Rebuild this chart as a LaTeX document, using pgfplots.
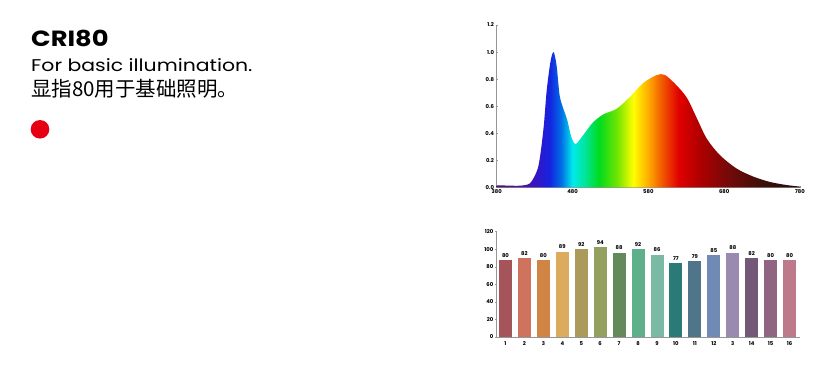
\documentclass[border=0pt]{standalone}
\usepackage{pgfplots}
\pgfplotsset{compat=1.18}
\usepackage{fontspec}
\setmainfont{Poppins}
\newfontfamily\cjk{Noto Sans CJK SC}
\definecolor{dotred}{RGB}{230,0,20}
\definecolor{axgray}{RGB}{150,150,150}
\definecolor{b1}{HTML}{A5555A}
\definecolor{b2}{HTML}{CF735E}
\definecolor{b3}{HTML}{D08545}
\definecolor{b4}{HTML}{DBAB5E}
\definecolor{b5}{HTML}{AC9A5A}
\definecolor{b6}{HTML}{93A060}
\definecolor{b7}{HTML}{648A5C}
\definecolor{b8}{HTML}{5DB08A}
\definecolor{b9}{HTML}{7ABAA5}
\definecolor{b10}{HTML}{2A7A78}
\definecolor{b11}{HTML}{50758A}
\definecolor{b12}{HTML}{6E8AB5}
\definecolor{b13}{HTML}{9A8AAF}
\definecolor{b14}{HTML}{745878}
\definecolor{b15}{HTML}{8F6582}
\definecolor{b16}{HTML}{BD7A8A}
% horizontal spectrum shading: 380nm -> 25bp, 780nm -> 75bp
\pgfdeclarehorizontalshading{spectrum}{100bp}{%
 rgb(0bp)=(0.31,0.08,0.43);
 rgb(25bp)=(0.31,0.08,0.43);
 rgb(28.75bp)=(0.33,0.08,0.57);
 rgb(31.25bp)=(0.22,0.08,0.75);
 rgb(33.75bp)=(0.08,0.14,0.88);
 rgb(35.625bp)=(0.0,0.43,0.90);
 rgb(37.5bp)=(0.0,0.92,0.92);
 rgb(39.375bp)=(0.0,0.90,0.63);
 rgb(41.875bp)=(0.0,0.86,0.12);
 rgb(45bp)=(0.47,0.90,0.0);
 rgb(47.5bp)=(1.0,1.0,0.0);
 rgb(50bp)=(1.0,0.67,0.0);
 rgb(52.5bp)=(0.94,0.31,0.0);
 rgb(55bp)=(0.88,0.0,0.0);
 rgb(58.75bp)=(0.67,0.0,0.0);
 rgb(63.75bp)=(0.43,0.04,0.04);
 rgb(68.75bp)=(0.24,0.06,0.04);
 rgb(75bp)=(0.12,0.06,0.04);
 rgb(100bp)=(0.12,0.06,0.04)}
\pgfplotsset{
 barstyle/.style={ybar, bar width=13pt, bar shift=0pt, draw=none, fill=#1,
   nodes near coords, point meta=explicit symbolic,
   every node near coord/.append style={font=\bfseries\fontsize{5.3}{5.3}\selectfont, text=black, inner sep=2.5pt}},
}
\begin{document}
\begin{tikzpicture}[x=1pt,y=1pt]
\path[use as bounding box] (0,0) rectangle (836,370);
\node[anchor=base west, inner sep=0pt, font=\bfseries\fontsize{22}{22}\selectfont] at (31,323.3) {\scalebox{1.17}[1]{CRI80}};
\node[anchor=base west, inner sep=0pt, font=\fontsize{17}{17}\selectfont] at (31,298.3) {\scalebox{1.2}[1]{For basic illumination.}};
\node[anchor=base west, inner sep=0pt, font=\cjk\fontsize{20.5}{20.5}\selectfont] at (31,273.5) {显指80用于基础照明。};
\fill[dotred] (40,240.7) circle (9.3);

\begin{axis}[
 at={(496.7pt,182.7pt)}, anchor=south west, scale only axis,
 width=303.3pt, height=162.3pt,
 xmin=380, xmax=780, ymin=0, ymax=1.2,
 axis x line=bottom, axis y line=left,
 axis line style={-, axgray, line width=0.6pt},
 xtick={380,480,580,680,780}, ytick={0,0.2,0.4,0.6,0.8,1.0,1.2},
 tick style={axgray, line width=0.5pt}, major tick length=2pt,
 tick label style={font=\bfseries\fontsize{5.3}{5.3}\selectfont, inner sep=1.5pt},
 /pgf/number format/assume math mode=true,
 yticklabel style={/pgf/number format/.cd, fixed, fixed zerofill, precision=1},
 xticklabel style={/pgf/number format/.cd, fixed, 1000 sep={}},
 clip=false,
]
\addplot[shading=spectrum, draw=none, smooth, tension=0.5] coordinates {
 (380,0.015) (400,0.012) (411,0.012) (424,0.03) (433,0.12) (437,0.22)
 (442,0.45) (446,0.72) (451,0.93) (455,1.00) (459,0.90) (463,0.68)
 (468,0.58) (473,0.50) (478,0.38) (484,0.32) (494,0.385) (507,0.48)
 (521,0.54) (538,0.58) (556,0.67) (573,0.77) (591,0.83) (602,0.83)
 (617,0.755) (631,0.66) (644,0.51) (657,0.36) (674,0.24) (696,0.14)
 (718,0.08) (740,0.04) (762,0.017) (780,0.005)
} \closedcycle;
\end{axis}

\begin{axis}[
 at={(496pt,33pt)}, anchor=south west, scale only axis,
 width=304pt, height=105.3pt,
 xmin=0.5, xmax=16.55, ymin=0, ymax=120,
 axis x line=bottom, axis y line=left,
 axis line style={-, axgray, line width=0.6pt},
 xtick={1,...,16},
 xticklabels={1,2,3,4,5,6,7,8,9,10,11,12,3,14,15,16},
 ytick={0,20,40,60,80,100,120},
 major x tick style={draw=none},
 extra x ticks={1.5,2.5,...,15.5}, extra x tick labels={},
 extra x tick style={tick style={axgray}, major tick length=2pt},
 tick style={axgray, line width=0.5pt}, major tick length=2pt,
 tick label style={font=\bfseries\fontsize{5.3}{5.3}\selectfont, inner sep=1.5pt},
 xticklabel style={yshift=-2pt},
 /pgf/number format/assume math mode=true,
 clip=false,
]
\addplot[barstyle=b1] coordinates {(1,87.4) [80]};
\addplot[barstyle=b2] coordinates {(2,89.6) [82]};
\addplot[barstyle=b3] coordinates {(3,87.4) [80]};
\addplot[barstyle=b4] coordinates {(4,97.3) [89]};
\addplot[barstyle=b5] coordinates {(5,100.6) [92]};
\addplot[barstyle=b6] coordinates {(6,102.7) [94]};
\addplot[barstyle=b7] coordinates {(7,96.2) [88]};
\addplot[barstyle=b8] coordinates {(8,100.6) [92]};
\addplot[barstyle=b9] coordinates {(9,94.0) [86]};
\addplot[barstyle=b10] coordinates {(10,84.2) [77]};
\addplot[barstyle=b11] coordinates {(11,86.3) [79]};
\addplot[barstyle=b12] coordinates {(12,92.9) [85]};
\addplot[barstyle=b13] coordinates {(13,96.2) [88]};
\addplot[barstyle=b14] coordinates {(14,89.6) [82]};
\addplot[barstyle=b15] coordinates {(15,87.4) [80]};
\addplot[barstyle=b16] coordinates {(16,87.4) [80]};
\end{axis}
\end{tikzpicture}
\end{document}
